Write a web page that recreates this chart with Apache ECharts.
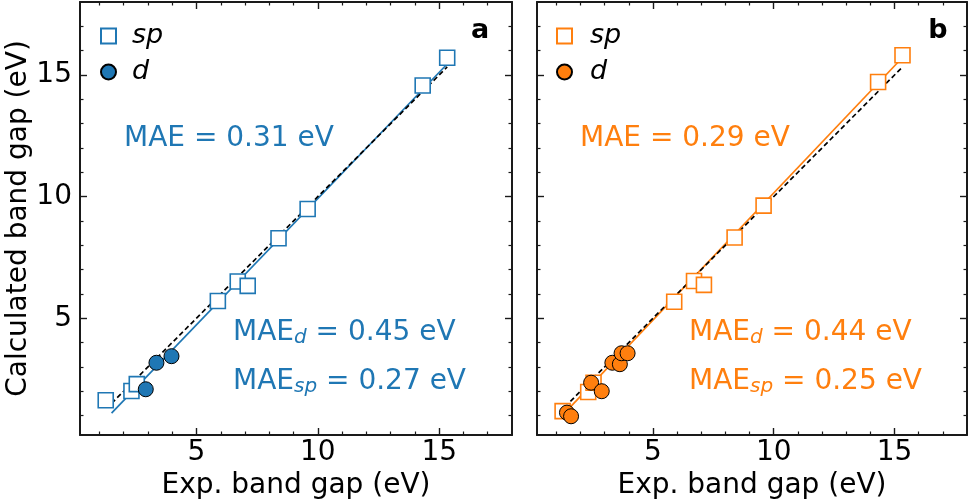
<!DOCTYPE html>
<html>
<head>
<meta charset="utf-8">
<style>
  html, body { margin: 0; padding: 0; background: #fff; }
  #main { width: 968px; height: 500px; }
</style>
<script src="https://cdn.jsdelivr.net/npm/echarts@6/dist/echarts.min.js"></script>
</head>
<body>
<div id="main"></div>
<script>
// exp. band gaps (sp set, same in both panels)
var spX = [1.26, 2.32, 2.54, 5.88, 6.70, 7.11, 8.38, 9.58, 14.32, 15.33];
// panel a
var aSpY = [1.63, 2.01, 2.29, 5.71, 6.51, 6.33, 8.29, 9.49, 14.57, 15.71];
var aDX = [2.91, 3.35, 3.97];
var aDY = [2.08, 3.17, 3.44];
var aFitX = [1.5, 15.33];
var aFitY = [1.1, 15.45];
var aIdealX = [1.5, 15.33];
// panel b
var bSpY = [1.18, 1.97, 2.35, 5.68, 6.53, 6.37, 8.32, 9.63, 14.71, 15.81];
var bDX = [1.44, 1.61, 2.44, 2.88, 3.32, 3.63, 3.70, 3.95];
var bDY = [1.12, 0.97, 2.35, 2.00, 3.17, 3.11, 3.56, 3.56];
var bFitX = [1.3, 15.33];
var bFitY = [1.06, 15.72];
var bIdealX = [1.35, 15.33];

var majorTicks = [5, 10, 15];
var minorTicks = [1, 2, 3, 4, 6, 7, 8, 9, 11, 12, 13, 14, 16, 17];
var axisMin = 0.2, axisMax = 18;

var blue = '#1f77b4', orange = '#ff7f0e';
var FONT = 'DejaVu Sans';
var frame = '#1a1a1a';

function pairs(xs, ys) {
  return xs.map(function (x, i) { return [x, ys[i]]; });
}

function makeAxes(kind, grid, withLabels) {
  var list = [];
  var sides = kind === 'x' ? ['bottom', 'top'] : ['left', 'right'];
  sides.forEach(function (pos, si) {
    var mainSide = si === 0;
    // major
    var major = {
      type: 'value', gridIndex: grid, position: pos, min: axisMin, max: axisMax,
      splitLine: { show: false },
      axisLine: { show: true, onZero: false, lineStyle: { color: frame, width: 2 } },
      axisTick: { show: true, inside: true, length: 7, customValues: majorTicks,
                  lineStyle: { color: frame, width: 1.4 } },
      axisLabel: { show: mainSide && withLabels, customValues: majorTicks,
                   fontFamily: FONT, fontSize: 28, color: '#000',
                   margin: kind === 'x' ? 4 : 8 }
    };
    if (mainSide && withLabels && kind === 'y') {
      major.name = 'Calculated band gap (eV)';
      major.nameLocation = 'middle';
      major.nameGap = 44;
      major.nameTextStyle = { fontFamily: FONT, fontSize: 28, color: '#000' };
    }
    if (mainSide && kind === 'x') {
      major.name = 'Exp. band gap (eV)';
      major.nameLocation = 'middle';
      major.nameGap = 37;
      major.nameTextStyle = { fontFamily: FONT, fontSize: 28, color: '#000' };
    }
    list.push(major);
    // minor
    list.push({
      type: 'value', gridIndex: grid, position: pos, min: axisMin, max: axisMax,
      splitLine: { show: false },
      axisLine: { show: false, onZero: false },
      axisTick: { show: true, inside: true, length: 3.5, customValues: minorTicks,
                  lineStyle: { color: frame, width: 1.2 } },
      axisLabel: { show: false }
    });
  });
  return list;
}

var xAxes = makeAxes('x', 0, true).concat(makeAxes('x', 1, true));
var yAxes = makeAxes('y', 0, true).concat(makeAxes('y', 1, false));

function panelSeries(tag, color, ax, spY, dX, dY, fitX, fitY, idealX) {
  return [
    {
      name: tag + '-fit', type: 'line', xAxisIndex: ax, yAxisIndex: ax, z: 2,
      data: pairs(fitX, fitY), symbol: 'none', silent: true,
      lineStyle: { color: color, width: 1.7 }
    },
    {
      name: tag + '-ideal', type: 'line', xAxisIndex: ax, yAxisIndex: ax, z: 3,
      data: pairs(idealX, idealX), symbol: 'none', silent: true,
      lineStyle: { color: '#000', width: 1.7, type: [5, 3] }
    },
    {
      name: tag + '-sp', type: 'scatter', xAxisIndex: ax, yAxisIndex: ax, z: 4,
      data: pairs(spX, spY), symbol: 'rect', symbolSize: 15,
      itemStyle: { color: '#fff', borderColor: color, borderWidth: 1.6, opacity: 1 }
    },
    {
      name: tag + '-d', type: 'scatter', xAxisIndex: ax, yAxisIndex: ax, z: 5,
      data: pairs(dX, dY), symbol: 'circle', symbolSize: 15,
      itemStyle: { color: color, borderColor: '#000', borderWidth: 1, opacity: 1 }
    }
  ];
}

function legendFor(tag, left, pad) {
  return {
    orient: 'vertical', left: left, top: 21, padding: 0,
    itemWidth: 15, itemHeight: 15, itemGap: 6,
    selectedMode: false,
    data: [tag + '-sp', tag + '-d'],
    formatter: function (n) { return n.slice(2); },
    textStyle: { fontFamily: FONT, fontSize: 27, fontStyle: 'italic', color: '#000',
                 lineHeight: 30, padding: [0, 0, 0, pad] }
  };
}

var mainRich = function (color) {
  return {
    m: { fontFamily: FONT, fontSize: 28, fill: color, lineHeight: 30 },
    s: { fontFamily: FONT, fontSize: 20, fontStyle: 'italic', fill: color,
         lineHeight: 17, verticalAlign: 'bottom' }
  };
};

function maeTexts(color, x1, x2, total, dVal, spVal) {
  return [
    { type: 'text', x: x1, y: 139, z: 10,
      style: { text: 'MAE = ' + total + ' eV', fontFamily: FONT, fontSize: 28,
               fill: color, verticalAlign: 'middle' } },
    { type: 'text', x: x2, y: 333, z: 10,
      style: { text: '{m|MAE}{s|d}{m| = ' + dVal + ' eV}', rich: mainRich(color),
               verticalAlign: 'middle' } },
    { type: 'text', x: x2, y: 382, z: 10,
      style: { text: '{m|MAE}{s|sp}{m| = ' + spVal + ' eV}', rich: mainRich(color),
               verticalAlign: 'middle' } }
  ];
}

var graphics = []
  .concat(maeTexts(blue, 124, 233, '0.31', '0.45', '0.27'))
  .concat(maeTexts(orange, 580, 689, '0.29', '0.44', '0.25'))
  .concat([
    { type: 'text', x: 480, y: 31, z: 10,
      style: { text: 'a', fontFamily: FONT, fontSize: 27, fontWeight: 'bold', fill: '#000',
               align: 'center', verticalAlign: 'middle' } },
    { type: 'text', x: 938, y: 31, z: 10,
      style: { text: 'b', fontFamily: FONT, fontSize: 27, fontWeight: 'bold', fill: '#000',
               align: 'center', verticalAlign: 'middle' } }
  ]);

var chart = echarts.init(document.getElementById('main'), null, { renderer: 'canvas' });
var option = {
  animation: false,
  backgroundColor: '#fff',
  textStyle: { fontFamily: FONT },
  grid: [
    { left: 80, top: 2, width: 432, height: 433, outerBoundsMode: 'none', containLabel: false },
    { left: 537, top: 2, width: 430, height: 433, outerBoundsMode: 'none', containLabel: false }
  ],
  xAxis: xAxes,
  yAxis: yAxes,
  legend: [legendFor('a', 100, 11), legendFor('b', 556, 13)],
  graphic: graphics,
  series: panelSeries('a', blue, 0, aSpY, aDX, aDY, aFitX, aFitY, aIdealX)
    .concat(panelSeries('b', orange, 4, bSpY, bDX, bDY, bFitX, bFitY, bIdealX))
};
chart.setOption(option);
window.onresize = function () { chart.resize(); };
</script>
</body>
</html>
